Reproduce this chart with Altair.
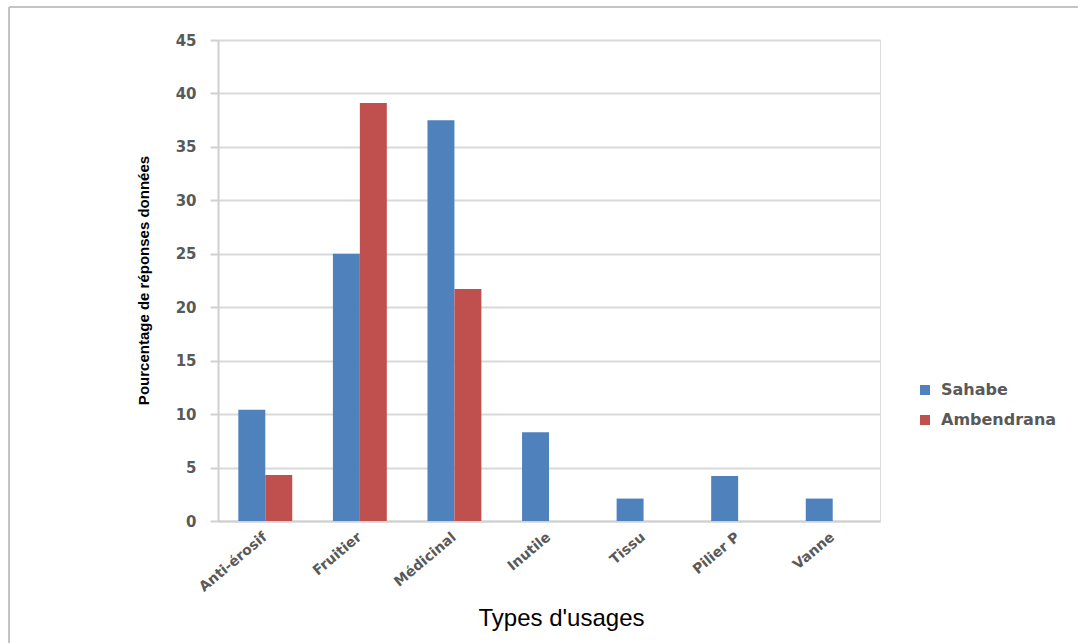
import altair as alt
import pandas as pd

# Usage types and share of answers (%) per village
categories = ["Anti-érosif", "Fruitier", "Médicinal", "Inutile", "Tissu", "Pilier P", "Vanne"]
sahabe = [10.4, 25.0, 37.5, 8.3, 2.1, 4.2, 2.1]
ambendrana = [4.3, 39.1, 21.7, 0, 0, 0, 0]
series = ["Sahabe", "Ambendrana"]
colors = ["#4F81BD", "#C0504D"]

rows = []
for i, cat in enumerate(categories):
    rows.append({"usage": cat, "site": "Sahabe", "pct": sahabe[i]})
    rows.append({"usage": cat, "site": "Ambendrana", "pct": ambendrana[i]})
df = pd.DataFrame(rows)

W, H = 662, 481
PAD_L, PAD_T = 218, 40

bars = alt.Chart(df).mark_bar().encode(
    x=alt.X(
        "usage:N",
        sort=categories,
        scale=alt.Scale(paddingInner=0.43, paddingOuter=0.215),
        axis=alt.Axis(
            title="Types d'usages",
            titleFont="Liberation Sans",
            titleFontSize=24,
            titleFontWeight="normal",
            titleColor="#000000",
            titleX=343,
            titleY=104,
            titleAlign="center",
            titleBaseline="alphabetic",
            labelAngle=-40,
            labelAlign="right",
            labelBaseline="middle",
            labelFont="DejaVu Sans",
            labelFontSize=14,
            labelFontWeight="bold",
            labelColor="#595959",
            labelPadding=14,
            ticks=False,
            domainColor="#d0d0d0",
            domainWidth=2,
        ),
    ),
    xOffset=alt.XOffset("site:N", sort=series, scale=alt.Scale(domain=series)),
    y=alt.Y(
        "pct:Q",
        scale=alt.Scale(domain=[0, 45]),
        axis=alt.Axis(
            title="Pourcentage de réponses données",
            titleFont="Liberation Sans Narrow, Liberation Sans",
            titleFontSize=15,
            titleFontWeight="bold",
            titleColor="#000000",
            titleX=-70,
            titleY=240,
            titleAlign="center",
            titleBaseline="alphabetic",
            values=list(range(0, 46, 5)),
            labelFont="DejaVu Sans",
            labelFontSize=15,
            labelFontWeight="bold",
            labelColor="#595959",
            labelPadding=14,
            tickSize=8,
            tickColor="#d0d0d0",
            tickWidth=2,
            grid=True,
            gridColor="#d9d9d9",
            gridWidth=2,
            domainColor="#d0d0d0",
            domainWidth=2,
        ),
    ),
    color=alt.Color(
        "site:N",
        sort=series,
        scale=alt.Scale(domain=series, range=colors),
        legend=alt.Legend(
            title=None,
            orient="none",
            legendX=699,
            legendY=342,
            symbolType="square",
            symbolSize=100,
            symbolStrokeWidth=0,
            labelFont="DejaVu Sans",
            labelFontSize=16,
            labelFontWeight="bold",
            labelColor="#595959",
            labelOffset=8,
            rowPadding=14,
            padding=0,
        ),
    ),
)

# Outer frame around the figure
frame_top = alt.Chart(df).mark_rule(color="#c4c4c4", strokeWidth=2).encode(
    x=alt.value(-209), x2=alt.value(1078 - PAD_L), y=alt.value(7 - PAD_T)
)
frame_left = alt.Chart(df).mark_rule(color="#c4c4c4", strokeWidth=2).encode(
    x=alt.value(-209), y=alt.value(7 - PAD_T), y2=alt.value(643 - PAD_T)
)

chart = (
    alt.layer(bars, frame_top, frame_left)
    .properties(
        width=W,
        height=H,
        autosize="none",
        padding={"left": PAD_L, "top": PAD_T, "right": 1078 - PAD_L - W, "bottom": 643 - PAD_T - H},
    )
    .configure_view(stroke=None)
    .configure(background="white")
)

chart.save("out.html", embed_options={"renderer": "svg", "actions": False})
